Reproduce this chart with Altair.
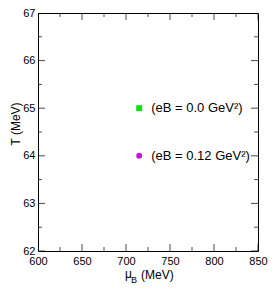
import altair as alt
import pandas as pd

# ---- data ----
series = ["eB = 0.0", "eB = 0.12"]
mu_B = [715, 715]
T = [65, 64]
labels = ["(eB = 0.0 GeV²)", "(eB = 0.12 GeV²)"]
shapes = ["square", "circle"]
colors = ["#11dd11", "#cc11dd"]

x_major = [600, 650, 700, 750, 800, 850]
x_minor = [625, 675, 725, 775, 825]
y_major = [62, 63, 64, 65, 66, 67]
y_minor = [62.5, 63.5, 64.5, 65.5, 66.5]

W, H = 220, 238
FONT = "Liberation Sans"

df = pd.DataFrame({"series": series, "mu_B": mu_B, "T": T, "label": labels})
xs = alt.Scale(domain=[600, 850], nice=False, zero=False)
ys = alt.Scale(domain=[62, 67], nice=False, zero=False)

axis_common = dict(tickSize=0, domain=False, grid=False, labelFont=FONT,
                   labelFontSize=11, labelColor="black", title=None,
                   labelFlush=False, labelOverlap=False)
xaxis = alt.Axis(values=x_major, labelPadding=4, **axis_common)
yaxis = alt.Axis(values=y_major, labelPadding=3, **axis_common)

base = alt.Chart(df)
points = base.mark_point(filled=True, size=36, opacity=1).encode(
    x=alt.X("mu_B:Q", scale=xs, axis=xaxis),
    y=alt.Y("T:Q", scale=ys, axis=yaxis),
    shape=alt.Shape("series:N", scale=alt.Scale(domain=series, range=shapes), legend=None),
    color=alt.Color("series:N", scale=alt.Scale(domain=series, range=colors), legend=None),
)
texts = base.mark_text(align="left", baseline="middle", dx=12, font=FONT,
                       fontSize=13, color="black").encode(
    x=alt.X("mu_B:Q", scale=xs, axis=xaxis),
    y=alt.Y("T:Q", scale=ys, axis=yaxis),
    text="label:N",
)

tick_layers = []
for vals, size in ((x_major, 14), (x_minor, 8)):
    d = pd.DataFrame({"mu_B": vals})
    for yy in (0, H):
        tick_layers.append(
            alt.Chart(d).mark_tick(orient="vertical", size=size, thickness=1,
                                   clip=True, color="black").encode(
                x=alt.X("mu_B:Q", scale=xs, axis=xaxis), y=alt.value(yy)))
for vals, size in ((y_major, 14), (y_minor, 8)):
    d = pd.DataFrame({"T": vals})
    for xx in (0, W):
        tick_layers.append(
            alt.Chart(d).mark_tick(orient="horizontal", size=size, thickness=1,
                                   clip=True, color="black").encode(
                y=alt.Y("T:Q", scale=ys, axis=yaxis), x=alt.value(xx)))


def title_text(t, x, y, size, angle=0):
    return alt.Chart(pd.DataFrame({"t": [t]})).mark_text(
        align="left" if angle == 0 else "center", baseline="alphabetic",
        font=FONT, fontSize=size, color="black", angle=angle).encode(
        x=alt.value(x), y=alt.value(y), text="t:N")


titles = [
    title_text("μ", 87, 265, 12),
    title_text("B", 93, 270, 9),
    title_text("(MeV)", 103, 266, 12),
    title_text("T (MeV)", -18, 111, 12, angle=270),
]

chart = alt.layer(points, texts, *tick_layers, *titles).properties(
    width=W, height=H,
    padding={"left": 30, "top": 5, "right": 10, "bottom": 33},
    autosize=alt.AutoSizeParams(type="none"),
).configure_view(stroke="black", strokeWidth=1)

chart.save("out.html", embed_options={"renderer": "svg", "actions": False})
